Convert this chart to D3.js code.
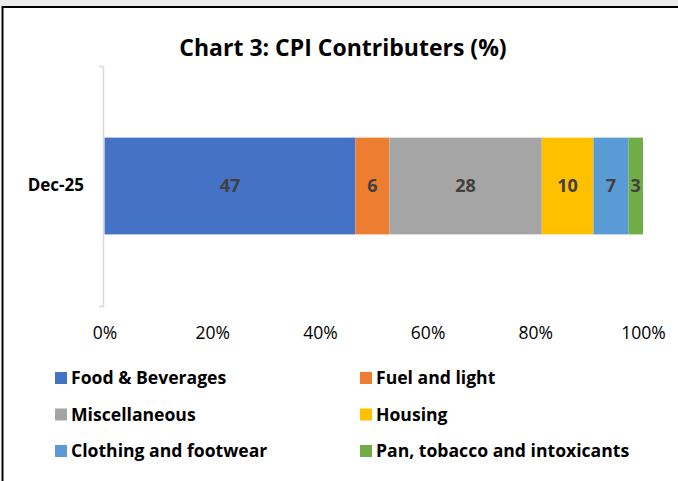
<!DOCTYPE html>
<html>
<head>
<meta charset="utf-8">
<script src="https://cdn.jsdelivr.net/npm/d3@7"></script>
<style>
  body { margin: 0; background: #fff; }
  svg { display: block; font-family: "Open Sans", Lato, sans-serif; }
</style>
</head>
<body>
<svg class="main" width="678" height="481"></svg>
<script>
// data
var period = ['Dec-25']
var categories = ['Food & Beverages', 'Fuel and light', 'Miscellaneous', 'Housing', 'Clothing and footwear', 'Pan, tobacco and intoxicants']
var shares = [46.6, 6.3, 28.3, 9.6, 6.5, 2.7]
var colors = ['#4472C4', '#ED7D31', '#A5A5A5', '#FFC000', '#5B9BD5', '#70AD47']
var xTicks = [0, 0.2, 0.4, 0.6, 0.8, 1]

function render() {
  var svg = d3.select('svg.main')
  var font = '"Open Sans", Lato, sans-serif'

  // frame
  svg.append('rect').attr('x', 0).attr('y', 0).attr('width', 678).attr('height', 6).attr('fill', '#ececec')
  svg.append('line').attr('x1', 2).attr('x2', 678).attr('y1', 7).attr('y2', 7)
    .attr('stroke', '#000').attr('stroke-width', 2)
  svg.append('line').attr('x1', 2.5).attr('x2', 2.5).attr('y1', 6).attr('y2', 481)
    .attr('stroke', '#000').attr('stroke-width', 2)

  // title
  svg.append('text')
    .attr('x', 343).attr('y', 56)
    .attr('text-anchor', 'middle')
    .attr('font-size', 23).attr('font-weight', 'bold').attr('fill', '#000')
    .text('Chart 3: CPI Contributers (%)')

  // one row of stacked data
  var row = {period: period[0]}
  categories.forEach((c, i) => row[c] = shares[i])
  var total = d3.sum(shares)
  var stack = d3.stack().keys(categories).value((d, k) => d[k] / total)
  var dataset = stack([row])

  var xScale = d3.scaleLinear().domain([0, 1]).range([104.5, 643])
  var yScale = d3.scaleBand().domain(period).range([66, 306]).paddingInner(0).paddingOuter(0.74)
  var color = d3.scaleOrdinal().domain(categories).range(colors)

  // bars
  var groups = svg.selectAll('g.series')
    .data(dataset).enter()
    .append('g').attr('class', 'series')
    .attr('fill', d => color(d.key))
  groups.selectAll('rect')
    .data(d => d)
    .join('rect')
    .attr('x', d => xScale(d[0]))
    .attr('width', d => xScale(d[1]) - xScale(d[0]))
    .attr('y', d => yScale(d.data.period))
    .attr('height', yScale.bandwidth())

  // value labels
  svg.selectAll('text.value')
    .data(dataset).enter()
    .append('text').attr('class', 'value')
    .attr('x', d => (xScale(d[0][0]) + xScale(d[0][1])) / 2)
    .attr('y', d => yScale(d[0].data.period) + yScale.bandwidth() / 2)
    .attr('dy', '0.36em')
    .attr('text-anchor', 'middle')
    .attr('font-size', 18).attr('font-weight', 'bold').attr('fill', '#404040')
    .text((d, i) => Math.round(shares[i]))

  // y axis (category)
  var yAxis = svg.append('g')
    .attr('transform', 'translate(103,0)')
    .call(d3.axisLeft(yScale).tickSize(0).tickSizeOuter(4).tickPadding(19))
  yAxis.select('.domain').attr('stroke', '#d9d9d9').attr('stroke-width', 1.5)
  yAxis.selectAll('text')
    .attr('font-family', font)
    .attr('font-size', 17).attr('font-weight', 'bold').attr('fill', '#000')

  // x axis (percent)
  var xAxis = svg.append('g')
    .attr('transform', 'translate(0,306)')
    .call(d3.axisBottom(xScale).tickValues(xTicks).tickFormat(d3.format('.0%')).tickSize(0).tickPadding(21))
  xAxis.select('.domain').remove()
  xAxis.selectAll('text')
    .attr('font-family', font)
    .attr('font-size', 17.5).attr('fill', '#000')

  // legend
  var legend = svg.selectAll('g.legend')
    .data(categories).enter()
    .append('g').attr('class', 'legend')
    .attr('transform', (d, i) => `translate(${i % 2 == 0 ? 55 : 360}, ${378 + Math.floor(i / 2) * 36.5})`)
  legend.append('rect')
    .attr('x', 0).attr('y', -6).attr('width', 12).attr('height', 12)
    .attr('fill', d => color(d))
  legend.append('text')
    .attr('x', 16).attr('dy', '0.36em')
    .attr('font-size', 17.6).attr('font-weight', 'bold').attr('fill', '#000')
    .text(d => d)
}

render()
</script>
</body>
</html>
